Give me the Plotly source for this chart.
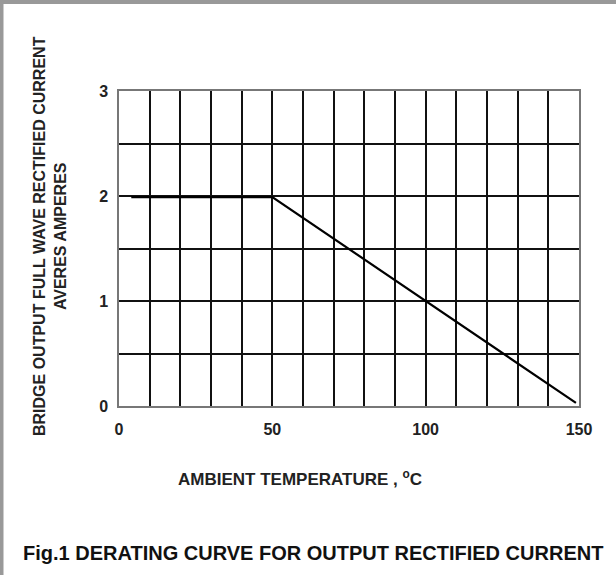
import plotly.graph_objects as go

# Data
temperature_c = [4, 50, 149]
current_a = [1.99, 1.99, 0.03]

x_grid = list(range(0, 151, 10))
x_tick_labels = {0: "0", 50: "50", 100: "100", 150: "150"}
y_grid = [0, 0.5, 1, 1.5, 2, 2.5, 3]
y_tick_labels = {0: "0", 1: "1", 2: "2", 3: "3"}

FONT = "Liberation Sans Narrow, Liberation Sans, Arial, sans-serif"

W, H = 616, 575
L, R, T, B = 119, 37, 91, 169
PW, PH = W - L - R, H - T - B

def px(x):
    return (x - L) / PW

def py(y):
    return (H - B - y) / PH

fig = go.Figure()
fig.add_trace(go.Scatter(
    x=temperature_c, y=current_a, mode="lines",
    line=dict(color="#000000", width=2.2), showlegend=False, hoverinfo="skip"))

fig.update_layout(
    width=W, height=H,
    margin=dict(l=L, r=R, t=T, b=B),
    paper_bgcolor="white", plot_bgcolor="white",
    font=dict(family=FONT, color="#1a1a1a"),
    xaxis=dict(
        range=[0, 150], tickvals=x_grid,
        ticktext=[x_tick_labels.get(v, " ") for v in x_grid],
        showgrid=True, gridcolor="#111111", gridwidth=1.5,
        showline=True, linecolor="#777777", linewidth=1.5, mirror=True,
        zeroline=False, ticks="", ticklabelstandoff=8,
        tickfont=dict(family=FONT, size=16, weight="bold", color="#222222"),
    ),
    yaxis=dict(
        range=[0, 3], tickvals=y_grid,
        ticktext=[y_tick_labels.get(v, " ") for v in y_grid],
        showgrid=True, gridcolor="#111111", gridwidth=1.5,
        showline=True, linecolor="#777777", linewidth=1.5, mirror=True,
        zeroline=False, ticks="", ticklabelstandoff=6,
        tickfont=dict(family=FONT, size=16, weight="bold", color="#222222"),
    ),
)

annotations = [
    dict(text="AMBIENT TEMPERATURE , <sup>o</sup>C", x=px(300), y=py(478),
         font=dict(size=17, weight="bold", color="#222222")),
    dict(text="Fig.1 DERATING CURVE FOR OUTPUT RECTIFIED CURRENT", x=px(313), y=py(553),
         font=dict(size=20, weight="bold", color="#111111")),
    dict(text="BRIDGE OUTPUT FULL WAVE RECTIFIED CURRENT<br>AVERES AMPERES",
         x=px(50), y=py(236), textangle=-90,
         font=dict(size=16, weight="bold", color="#222222")),
]
for a in annotations:
    a.update(xref="paper", yref="paper", showarrow=False, xanchor="center", yanchor="middle")
fig.update_layout(annotations=annotations)

# grey frame on top and left edges of the picture
fig.add_shape(type="rect", xref="paper", yref="paper", x0=px(-2), x1=px(W + 2), y0=py(-2), y1=py(4),
              fillcolor="#999999", line=dict(width=0), layer="above")
fig.add_shape(type="rect", xref="paper", yref="paper", x0=px(-2), x1=px(3.5), y0=py(-2), y1=py(H + 2),
              fillcolor="#999999", line=dict(width=0), layer="above")

fig.write_html(
    "out.html",
    post_script="document.body.style.margin='0';",
    config={"displayModeBar": False},
)
